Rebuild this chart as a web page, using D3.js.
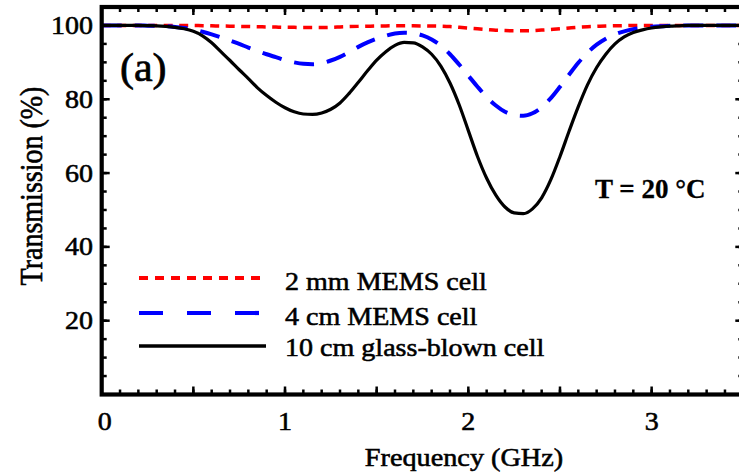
<!DOCTYPE html>
<html>
<head>
<meta charset="utf-8">
<script src="https://cdn.jsdelivr.net/npm/d3@7"></script>
<style>
  html, body { margin: 0; padding: 0; background: #fff; }
  svg { display: block; }
</style>
</head>
<body>
<svg id="chart" width="739" height="476"></svg>
<script>
// ---------- data ----------
const freq = [0.00,0.05,0.10,0.15,0.20,0.25,0.30,0.35,0.40,0.45,
              0.50,0.55,0.60,0.65,0.70,0.75,0.80,0.85,0.90,0.95,
              1.00,1.05,1.10,1.15,1.20,1.25,1.30,1.35,1.40,1.45,
              1.50,1.55,1.60,1.65,1.70,1.75,1.80,1.85,1.90,1.95,
              2.00,2.05,2.10,2.15,2.20,2.25,2.30,2.35,2.40,2.45,
              2.50,2.55,2.60,2.65,2.70,2.75,2.80,2.85,2.90,2.95,
              3.00,3.05,3.10,3.15,3.20,3.25,3.30,3.35,3.40,3.45,3.50];

const mems2mm = [100,100,100,100,100,100,100,100,100,100,
                 99.97,99.95,99.9,99.85,99.8,99.75,99.7,99.65,99.6,99.55,
                 99.5,99.48,99.45,99.45,99.45,99.5,99.6,99.68,99.75,99.8,
                 99.85,99.88,99.9,99.9,99.9,99.88,99.85,99.8,99.7,99.5,
                 99.3,99.1,98.9,98.7,98.6,98.55,98.55,98.6,98.75,98.9,
                 99.1,99.3,99.5,99.65,99.75,99.85,99.9,99.95,100,100,
                 100,100,100,100,100,100,100,100,100,100,100];

const mems4cm = [100,100,100,100,100,99.95,99.9,99.8,99.6,99.3,
                 98.9,98.3,97.6,96.8,95.9,95.0,94.0,93.1,92.2,91.4,
                 90.6,90.0,89.6,89.5,89.8,90.5,91.5,92.8,94.2,95.4,
                 96.4,97.2,97.8,98.0,97.9,97.3,96.2,94.5,92.2,89.4,
                 86.4,83.4,80.6,78.3,76.6,75.7,75.5,76.2,77.8,80.3,
                 83.4,86.7,89.9,92.6,94.8,96.4,97.6,98.4,99.0,99.4,
                 99.65,99.8,99.9,100,100,100,100,100,100,100,100];

const glass10cm = [100,100,100,100,100,99.95,99.9,99.75,99.5,99.1,
                   98.4,97.2,95.3,92.9,90.5,88.0,85.6,83.1,81.0,79.2,
                   77.7,76.6,76.0,75.9,76.3,77.3,79.0,81.6,84.6,87.7,
                   90.6,92.9,94.6,95.4,95.3,94.2,92.2,89.0,84.4,78.5,
                   71.5,64.5,58.6,54.0,50.8,49.2,49.0,50.3,53.3,58.2,
                   64.5,71.4,78.0,83.9,88.6,92.2,95.0,96.9,98.1,98.8,
                   99.3,99.6,99.8,99.9,100,100,100,100,100,100,100];

const seriesNames = ["2 mm MEMS cell", "4 cm MEMS cell", "10 cm glass-blown cell"];
const xTickLabels = [0, 1, 2, 3];
const yTickLabels = [20, 40, 60, 80, 100];
const xTitle = "Frequency (GHz)";
const yTitle = "Transmission (%)";
const panelLabel = "(a)";
const tempLabel = "T = 20 °C";

// ---------- layout ----------
const FONT = "'Liberation Serif', 'Times New Roman', Times, 'DejaVu Serif', serif";
const svg = d3.select("#chart");
const L = 101.7, R = 743.3, T = 7, B = 394.5;
const x = d3.scaleLinear().domain([0, 3.5]).range([L, R]);
const y = d3.scaleLinear().domain([0, 105]).range([B, T]);
const SX = 1.12;

function txt(g, s, px, py, size, anchor, opts = {}) {
  const t = g.append("text")
    .attr("transform", `translate(${px},${py}) scale(${opts.sx || SX},1)` + (opts.rot ? ` rotate(${opts.rot})` : ""))
    .attr("text-anchor", anchor)
    .attr("font-family", FONT)
    .attr("font-size", size)
    .attr("fill", "#000")
    .attr("stroke", "#000")
    .attr("stroke-width", opts.sw == null ? 0.55 : opts.sw)
    .text(s);
  if (opts.weight) t.attr("font-weight", opts.weight);
  return t;
}

// ---------- curves ----------
const plot = svg.append("g");
const line = d3.line().x((d, i) => x(freq[i])).y(d => y(d)).curve(d3.curveMonotoneX);
const styles = [
  { data: mems2mm, color: "#ff0000", width: 3.5, dash: "9,6.5" },
  { data: mems4cm, color: "#0000ff", width: 4, dash: "20,13" },
  { data: glass10cm, color: "#000000", width: 3.2, dash: null }
];
styles.forEach(s => {
  plot.append("path").datum(s.data)
    .attr("d", line).attr("fill", "none")
    .attr("stroke", s.color).attr("stroke-width", s.width)
    .attr("stroke-dasharray", s.dash);
});

// ---------- frame and ticks ----------
const axes = svg.append("g");
const majX = d3.range(0, 3.51, 0.5), minX = d3.range(0, 3.51, 0.1);
const majY = d3.range(0, 105.1, 20), minY = d3.range(0, 105.1, 5);
const tick = (x1, y1, x2, y2) => axes.append("line")
  .attr("x1", x1).attr("y1", y1).attr("x2", x2).attr("y2", y2)
  .attr("stroke", "#000").attr("stroke-width", 2.5);
minX.forEach(v => { tick(x(v), B, x(v), B - 5); tick(x(v), T, x(v), T + 5); });
majX.forEach(v => { tick(x(v), B, x(v), B - 8); tick(x(v), T, x(v), T + 8); });
minY.forEach(v => { tick(L, y(v), L + 5, y(v)); tick(R, y(v), R - 5, y(v)); });
majY.forEach(v => { tick(L, y(v), L + 8, y(v)); tick(R, y(v), R - 8, y(v)); });
axes.append("rect").attr("x", L).attr("y", T).attr("width", R - L).attr("height", B - T)
  .attr("fill", "none").attr("stroke", "#000").attr("stroke-width", 4.2);

// tick labels
xTickLabels.forEach(v => txt(svg, String(v), x(v) + (v === 0 ? 3 : 0), 430, 25, "middle"));
yTickLabels.forEach(v => txt(svg, String(v), 93, y(v) + 8.5, 25, "end"));

// axis titles
txt(svg, xTitle, 464, 466, 25, "middle", { sx: 1.13 });
txt(svg, yTitle, 42, 186, 28, "middle", { sx: 1.15, rot: -90 });

// annotations
txt(svg, panelLabel, 120, 81, 40, "start", { sx: 1.05, sw: 0.7 });
txt(svg, tempLabel, 595, 198, 27, "start", { sx: 1.0, weight: "bold", sw: 0.3 });

// ---------- legend ----------
const leg = svg.append("g");
const legRows = [
  { y: 278, x2: 260, ty: 290, dash: "9,7" },
  { y: 313, x2: 260, ty: 325, dash: "24,24" },
  { y: 346, x2: 266, ty: 356, dash: null }
];
legRows.forEach((r, i) => {
  leg.append("line").attr("x1", 139).attr("x2", r.x2).attr("y1", r.y).attr("y2", r.y)
    .attr("stroke", styles[i].color).attr("stroke-width", i === 2 ? 3.3 : 4.2)
    .attr("stroke-dasharray", r.dash);
  txt(leg, seriesNames[i], 285, r.ty, 25.5, "start", { sx: 1.1 });
});
</script>
</body>
</html>
